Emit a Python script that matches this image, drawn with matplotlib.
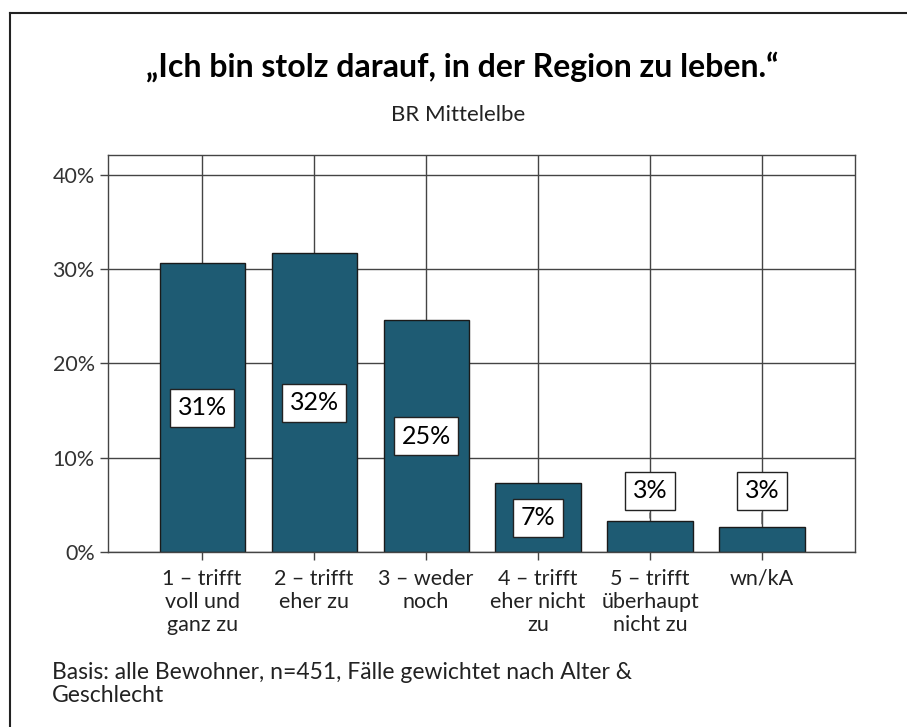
import matplotlib.pyplot as plt
from matplotlib.lines import Line2D

plt.rcParams["font.family"] = ["Lato", "DejaVu Sans"]

categories = [
    "1 – trifft\nvoll und\nganz zu",
    "2 – trifft\neher zu",
    "3 – weder\nnoch",
    "4 – trifft\neher nicht\nzu",
    "5 – trifft\nüberhaupt\nnicht zu",
    "wn/kA",
]
values = [30.6, 31.7, 24.6, 7.3, 3.3, 2.7]
labels = ["31%", "32%", "25%", "7%", "3%", "3%"]
y_ticks = [0, 10, 20, 30, 40]

bar_color = "#1e5b73"
line_color = "#444444"

fig = plt.figure(figsize=(9.07, 7.27), dpi=100)
ax = fig.add_axes([108 / 907, 175 / 727, 747 / 907, 397 / 727])

x = list(range(len(categories)))

# grid behind bars
for yt in y_ticks:
    ax.axhline(yt, color=line_color, lw=1, zorder=1)
for xi in x:
    ax.axvline(xi, color=line_color, lw=1, zorder=1)

ax.bar(x, values, width=0.76, color=bar_color, edgecolor="#1a1a1a",
       linewidth=1, zorder=2)

box = dict(boxstyle="square,pad=0.3", fc="white", ec="#222222", lw=1)
for xi, v, lab in zip(x, values, labels):
    if v > 5:
        ax.text(xi, v / 2, lab, ha="center", va="center", fontsize=18,
                bbox=box, zorder=4)
    else:
        ax.annotate(lab, xy=(xi, v), xytext=(xi, 6.5), ha="center",
                    va="center", fontsize=18, bbox=box, zorder=4,
                    arrowprops=dict(arrowstyle="-", color="#555555", lw=1))

ax.set_xlim(-0.84, 5.83)
ax.set_ylim(0, 42.1)
ax.set_yticks(y_ticks)
ax.set_yticklabels([f"{t}%" for t in y_ticks], fontsize=15.5, color="#333333")
ax.set_xticks(x)
ax.set_xticklabels(categories, fontsize=15.5, color="#222222", linespacing=1.2)
ax.tick_params(axis="both", direction="out", length=6, width=1,
               color=line_color)
ax.tick_params(axis="x", pad=6)
for s in ax.spines.values():
    s.set_color(line_color)
    s.set_linewidth(1)

fig.text(462 / 907, 1 - 67 / 727,
         "„Ich bin stolz darauf, in der Region zu leben.“",
         ha="center", va="center", fontsize=23, fontweight="bold")
fig.text(458 / 907, 1 - 115 / 727, "BR Mittelelbe", ha="center",
         va="center", fontsize=16, color="#222222")
fig.text(52 / 907, 1 - 684 / 727,
         "Basis: alle Bewohner, n=451, Fälle gewichtet nach Alter &\nGeschlecht",
         ha="left", va="center", fontsize=16.5, color="#222222",
         linespacing=1.1)

# outer frame (cropped at right and bottom)
fig.add_artist(Line2D([10 / 907, 10 / 907], [0, 1 - 13 / 727],
                      transform=fig.transFigure, color="#222222", lw=1.5))
fig.add_artist(Line2D([10 / 907, 1], [1 - 13 / 727, 1 - 13 / 727],
                      transform=fig.transFigure, color="#222222", lw=1.5))

fig.savefig("out.png", dpi=100)
